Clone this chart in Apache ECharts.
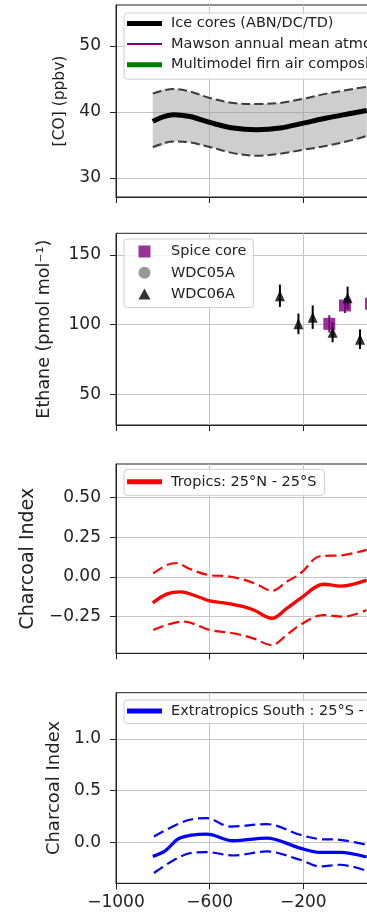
<!DOCTYPE html>
<html><head><meta charset="utf-8">
<script src="https://cdn.jsdelivr.net/npm/echarts@6/dist/echarts.min.js"></script>
<style>html,body{margin:0;padding:0;background:#fff}#c{width:367px;height:915px}</style>
</head><body><div id="c"></div>
<script>
// ---------- data ----------
const xTicks = [-1000, -600, -200, 200];

// Panel 1: CO ice cores
const coYears = [-843, -755, -684, -599, -499, -399, -300, -200, -100, 13, 71];
const coMean  = [38.56, 39.57, 39.3, 38.4, 37.55, 37.3, 37.55, 38.3, 39.07, 39.83, 40.23];
const coUpper = [42.77, 43.48, 43.1, 42.1, 41.35, 41.2, 41.35, 42.0, 42.77, 43.48, 43.8];
const coLower = [34.67, 35.52, 35.37, 34.67, 33.75, 33.35, 33.65, 34.26, 34.86, 35.77, 36.38];
const mawsonYears = [], mawsonCO = [];
const firnYears = [], firnCO = [];
const coTicks = [30, 40, 50];

// Panel 2: ethane
const spiceYears  = [-89, -22, 89];
const spiceEthane = [100.6, 113.8, 115];
const spiceErr    = [6.2, 5.4, 6];
const wdc05Years = [], wdc05Ethane = [];
const wdc06Years  = [-300, -221, -160, -75, -11, 42];
const wdc06Ethane = [120.8, 100.6, 105.4, 94.6, 119.3, 89.6];
const wdc06Err    = [8, 7.4, 8.4, 7.2, 8, 7];
const ethTicks = [50, 100, 150];

// Panel 3: charcoal tropics
const tropYears = [-843, -784, -726, -641, -600, -526, -456, -412, -334, -271, -212, -113, -40, 70];
const tropMean  = [-0.163, -0.108, -0.094, -0.129, -0.15, -0.166, -0.187, -0.208, -0.26, -0.198, -0.135, -0.046, -0.058, -0.02];
const tropUpYears = [-841, -784, -740, -690, -600, -526, -456, -400, -334, -271, -212, -129, -29, 70];
const tropUpper   = [0.022, 0.074, 0.0875, 0.053, 0.011, 0.005, -0.016, -0.045, -0.087, -0.03, 0.022, 0.13, 0.137, 0.17];
const tropLoYears = [-841, -713, -599, -499, -414, -335, -271, -214, -115, -29, 70];
const tropLower   = [-0.334, -0.28, -0.334, -0.354, -0.386, -0.428, -0.365, -0.302, -0.24, -0.25, -0.208];
const tropTicks = [-0.25, 0, 0.25, 0.5];

// Panel 4: charcoal extratropics south
const extYears = [-843, -790, -727, -613, -499, -357, -214, -129, -44, 70];
const extMean  = [-0.139, -0.085, 0.039, 0.077, 0.013, 0.039, -0.058, -0.1, -0.1, -0.145];
const extUpYears = [-838, -698, -613, -513, -357, -214, -129, -44, 70];
const extUpper   = [0.054, 0.209, 0.232, 0.151, 0.174, 0.071, 0.029, 0.022, -0.026];
const extLoYears = [-838, -698, -613, -499, -357, -214, -129, -44, 70];
const extLower   = [-0.3, -0.116, -0.097, -0.13, -0.091, -0.171, -0.236, -0.22, -0.278];
const extTicks = [0, 0.5, 1.0];

// ---------- helpers ----------
const FONT = 'DejaVu Sans';
const TXT = '#222';
const zip = (xs, ys) => xs.map((x, i) => [x, ys[i]]);
const zip3 = (xs, ys, es) => xs.map((x, i) => [x, ys[i], es[i]]);
const minus = s => String(s).replace('-', '\u2212');

const chart = echarts.init(document.getElementById('c'));

const gridDefs = [
  {top: 5, height: 192},
  {top: 233.3, height: 191.7},
  {top: 464, height: 189.3},
  {top: 692.7, height: 190.6}
];
const yDefs = [
  {min: 27.1, max: 56.2, ticks: coTicks, fmt: v => String(v), name: '[CO] (ppbv)', nameSize: 15.5, nameGap: 45},
  {min: 28, max: 165.6, ticks: ethTicks, fmt: v => String(v), name: 'Ethane (pmol mol\u207B\u00B9)', nameSize: 17.5, nameGap: 63},
  {min: -0.48, max: 0.71, ticks: tropTicks, fmt: v => minus(v.toFixed(2)), name: 'Charcoal Index', nameSize: 19, nameGap: 77},
  {min: -0.40, max: 1.45, ticks: extTicks, fmt: v => minus(v.toFixed(1)), name: 'Charcoal Index', nameSize: 18, nameGap: 50}
];

const ICON_THICK = 'path://M0,0L35,0M0,4.5L35,4.5L35,9.5L0,9.5ZM0,14L35,14';
const ICON_THIN  = 'path://M0,0L35,0M0,6L35,6L35,8L0,8ZM0,14L35,14';
const ICON_SQ  = 'path://M0,0L35,0M11.5,0L23.5,0L23.5,12L11.5,12ZM0,12L35,12';
const ICON_CIR = 'path://M0,0L35,0M11.5,6A6,6,0,1,1,23.5,6A6,6,0,1,1,11.5,6ZM0,12L35,12';
const ICON_TRI = 'path://M0,0L35,0M17.5,0.5L23.5,11.5L11.5,11.5ZM0,12L35,12';

const legendCommon = {
  orient: 'vertical', left: 124, itemWidth: 35, selectedMode: false,
  borderColor: '#cfcfcf', borderWidth: 1, borderRadius: 3,
  backgroundColor: 'rgba(255,255,255,0.8)',
  itemStyle: {borderWidth: 0},
  textStyle: {fontSize: 14.5, lineHeight: 17, color: TXT, fontFamily: FONT, padding: [0, 0, 0, 4]}
};

const N_ICE = 'Ice cores (ABN/DC/TD)';
const N_MAW = 'Mawson annual mean atmospheric CO';
const N_FIRN = 'Multimodel firn air composite';
const N_SPICE = 'Spice core', N_W5 = 'WDC05A', N_W6 = 'WDC06A';
const N_TROP = 'Tropics: 25\u00B0N - 25\u00B0S';
const N_EXT = 'Extratropics South : 25\u00B0S - 90\u00B0S';

function bandSeries(idx, xs, lo, hi, fill) {
  return {
    type: 'custom', xAxisIndex: idx, yAxisIndex: idx, silent: true, z: 1,
    data: xs.map((x, i) => [x, lo[i], hi[i]]),
    encode: {x: 0, y: [1, 2]},
    renderItem: (params, api) => {
      if (params.dataIndex !== 0) return null;
      const pts = [];
      for (let i = 0; i < xs.length; i++) pts.push(api.coord([xs[i], hi[i]]));
      for (let i = xs.length - 1; i >= 0; i--) pts.push(api.coord([xs[i], lo[i]]));
      const mn = [Infinity, Infinity], mx = [-Infinity, -Infinity];
      pts.forEach(p => { mn[0] = Math.min(mn[0], p[0]); mn[1] = Math.min(mn[1], p[1]); mx[0] = Math.max(mx[0], p[0]); mx[1] = Math.max(mx[1], p[1]); });
      return {type: 'polygon', shape: {points: pts, smooth: 0.3, smoothConstraint: [mn, mx]}, style: {fill: fill}};
    }
  };
}
function lineSeries(idx, name, data, color, width, dashed, z) {
  return {
    type: 'line', name: name, xAxisIndex: idx, yAxisIndex: idx, data: data,
    smooth: 0.35, symbol: 'none', showSymbol: false, silent: true, z: z || 3,
    lineStyle: {color: color, width: width, type: dashed ? dashed : 'solid'},
    itemStyle: {color: color}
  };
}
function errSeries(idx, xs, ys, es, color) {
  return {
    type: 'custom', xAxisIndex: idx, yAxisIndex: idx, silent: true, z: 2,
    data: zip3(xs, ys, es), encode: {x: 0, y: 1},
    renderItem: (params, api) => {
      const x = api.value(0), y = api.value(1), e = api.value(2);
      const p1 = api.coord([x, y - e]), p2 = api.coord([x, y + e]);
      return {type: 'line', shape: {x1: p1[0], y1: p1[1], x2: p2[0], y2: p2[1]}, style: {stroke: color, lineWidth: 2}};
    }
  };
}

const option = {
  animation: false,
  backgroundColor: '#fff',
  grid: gridDefs.map(g => ({left: 116, width: 281, top: g.top, height: g.height, outerBoundsMode: 'none', containLabel: false,
    show: true, borderColor: '#222', borderWidth: 1, backgroundColor: 'transparent'})),
  xAxis: gridDefs.map((g, i) => ({
    type: 'value', gridIndex: i, min: -1000, max: 200,
    axisLine: {show: true, onZero: false, lineStyle: {color: '#222', width: 1}},
    axisTick: {show: true, inside: false, length: 6, customValues: xTicks, lineStyle: {color: '#222'}},
    axisLabel: {show: i === 3, customValues: xTicks, formatter: v => minus(v), fontSize: 17, color: TXT, fontFamily: FONT, margin: 11},
    splitLine: {show: true, lineStyle: {color: '#c4c4c4', width: 1}}
  })),
  yAxis: yDefs.map((d, i) => ({
    type: 'value', gridIndex: i, min: d.min, max: d.max,
    name: d.name, nameLocation: 'middle', nameRotate: 90, nameGap: d.nameGap,
    nameTextStyle: {fontSize: d.nameSize, color: TXT, fontFamily: FONT},
    axisLine: {show: true, onZero: false, lineStyle: {color: '#222', width: 1}},
    axisTick: {show: true, inside: false, length: 6, customValues: d.ticks, lineStyle: {color: '#222'}},
    axisLabel: {show: true, customValues: d.ticks, formatter: d.fmt, fontSize: 17, color: TXT, fontFamily: FONT, margin: 15},
    splitLine: {show: true, lineStyle: {color: '#c4c4c4', width: 1}}
  })),
  legend: [
    Object.assign({}, legendCommon, {top: 13, itemHeight: 14, itemGap: 3.6, padding: [2, 8, 6, 3],
      data: [{name: N_ICE, icon: ICON_THICK}, {name: N_MAW, icon: ICON_THIN}, {name: N_FIRN, icon: ICON_THICK}]}),
    Object.assign({}, legendCommon, {top: 239, itemHeight: 12, itemGap: 4.3, padding: [4, 7, 5, 3],
      data: [{name: N_SPICE, icon: ICON_SQ}, {name: N_W5, icon: ICON_CIR}, {name: N_W6, icon: ICON_TRI}]}),
    Object.assign({}, legendCommon, {top: 469.3, itemHeight: 14, itemGap: 4, padding: [4, 8, 5, 3],
      data: [{name: N_TROP, icon: ICON_THICK}]}),
    Object.assign({}, legendCommon, {top: 700, itemHeight: 14, itemGap: 4, padding: [2.5, 8, 4, 3],
      data: [{name: N_EXT, icon: ICON_THICK}]})
  ],
  series: [
    // Panel 1
    bandSeries(0, coYears, coLower, coUpper, 'rgba(150,150,150,0.47)'),
    lineSeries(0, 'coUp', zip(coYears, coUpper), '#3c3c3c', 2, [9, 4], 2),
    lineSeries(0, 'coLo', zip(coYears, coLower), '#3c3c3c', 2, [9, 4], 2),
    lineSeries(0, N_ICE, zip(coYears, coMean), '#000000', 5, null, 4),
    lineSeries(0, N_MAW, zip(mawsonYears, mawsonCO), '#800080', 2, null, 4),
    lineSeries(0, N_FIRN, zip(firnYears, firnCO), '#008000', 5, null, 4),
    // Panel 2
    errSeries(1, spiceYears, spiceEthane, spiceErr, '#800080'),
    {type: 'scatter', name: N_SPICE, xAxisIndex: 1, yAxisIndex: 1, symbol: 'rect', symbolSize: 12, z: 3,
     itemStyle: {color: '#800080'}, data: zip(spiceYears, spiceEthane), silent: true},
    {type: 'scatter', name: N_W5, xAxisIndex: 1, yAxisIndex: 1, symbol: 'circle', symbolSize: 12, z: 3,
     itemStyle: {color: '#808080'}, data: zip(wdc05Years, wdc05Ethane), silent: true},
    errSeries(1, wdc06Years, wdc06Ethane, wdc06Err, '#000000'),
    {type: 'scatter', name: N_W6, xAxisIndex: 1, yAxisIndex: 1, symbol: 'triangle', symbolSize: [10, 11], z: 5,
     itemStyle: {color: '#000000'}, data: zip(wdc06Years, wdc06Ethane), silent: true},
    // Panel 3
    lineSeries(2, 'tropUp', zip(tropUpYears, tropUpper), '#ff0000', 2.2, [11, 5], 2),
    lineSeries(2, 'tropLo', zip(tropLoYears, tropLower), '#ff0000', 2.2, [11, 5], 2),
    lineSeries(2, N_TROP, zip(tropYears, tropMean), '#ff0000', 3.3, null, 3),
    // Panel 4
    lineSeries(3, 'extUp', zip(extUpYears, extUpper), '#0000ff', 2.2, [11, 5], 2),
    lineSeries(3, 'extLo', zip(extLoYears, extLower), '#0000ff', 2.2, [11, 5], 2),
    lineSeries(3, N_EXT, zip(extYears, extMean), '#0000ff', 3.3, null, 3)
  ]
};
chart.setOption(option);
</script>
</body></html>
